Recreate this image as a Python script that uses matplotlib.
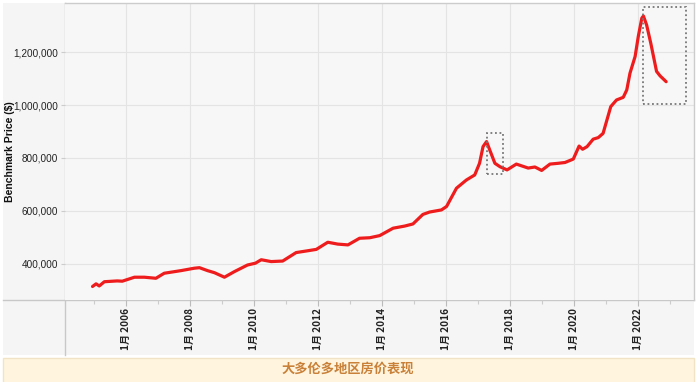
import pandas as pd
import numpy as np
import matplotlib
matplotlib.use("Agg")
import matplotlib.pyplot as plt
from matplotlib.ticker import FuncFormatter
from matplotlib.patches import Rectangle
from matplotlib.lines import Line2D

plt.rcParams['font.family'] = ['Liberation Sans', 'Noto Sans CJK SC', 'DejaVu Sans']

# data (decimal year, benchmark price)
years = [2004.96, 2005.07, 2005.17, 2005.33, 2005.73, 2005.89, 2006.27, 2006.58, 2006.94,
         2007.20, 2007.73, 2008.14, 2008.30, 2008.55, 2008.77, 2009.08, 2009.39, 2009.80,
         2010.05, 2010.23, 2010.54, 2010.90, 2011.32, 2011.64, 2011.95, 2012.31, 2012.62,
         2012.94, 2013.30, 2013.62, 2013.93, 2014.35, 2014.71, 2014.97, 2015.28, 2015.49,
         2015.86, 2016.02, 2016.33, 2016.64, 2016.90, 2017.05, 2017.16, 2017.27, 2017.37,
         2017.53, 2017.69, 2017.91, 2018.20, 2018.57, 2018.78, 2018.99, 2019.25, 2019.51,
         2019.72, 2019.98, 2020.16, 2020.27, 2020.41, 2020.60, 2020.76, 2020.91, 2021.15,
         2021.33, 2021.54, 2021.65, 2021.75, 2021.91, 2022.01, 2022.12, 2022.17, 2022.27,
         2022.40, 2022.58, 2022.69, 2022.88]
prices = [315000, 325000, 317000, 333000, 336000, 335000, 350000, 350000, 346000,
          365000, 375000, 384000, 386000, 375000, 367000, 350000, 371000, 396000,
          403000, 416000, 409000, 411000, 443000, 449000, 455000, 482000, 475000,
          472000, 497000, 499000, 507000, 535000, 543000, 551000, 587000, 596000,
          604000, 617000, 686000, 717000, 736000, 780000, 843000, 862000, 830000,
          780000, 767000, 755000, 777000, 762000, 766000, 753000, 777000, 780000,
          783000, 796000, 845000, 833000, 843000, 871000, 877000, 893000, 994000,
          1019000, 1029000, 1057000, 1120000, 1183000, 1259000, 1328000, 1336000, 1302000,
          1233000, 1127000, 1110000, 1088000]

# highlighted ranges (x0, x1, y0, y1)
boxes = [(2017.27, 2017.79, 740000, 893000),
         (2022.15, 2023.50, 1003000, 1369000)]

y_ticks = [400000, 600000, 800000, 1000000, 1200000]
x_major = list(range(2006, 2023, 2))
x_minor = list(range(2005, 2024, 2))
title_text = '大多伦多地区房价表现'

fig = plt.figure(figsize=(7, 3.82), dpi=100)
fig.patch.set_facecolor('white')

# pixel -> figure fraction helpers
W, H = 700, 382
def fx(px): return px / W
def fy(py): return 1 - py / H

# grey chart backdrop
fig.patches.append(Rectangle((fx(3), fy(355)), fx(694) - fx(3), fy(3) - fy(355),
                             transform=fig.transFigure, facecolor='#f5f5f5',
                             edgecolor='none', zorder=-2))
# banner
fig.patches.append(Rectangle((fx(3), fy(384)), fx(694) - fx(3), fy(358) - fy(384),
                             transform=fig.transFigure, facecolor='#fff5de',
                             edgecolor='#f1e4c6', linewidth=1, zorder=-2))
fig.text(fx(348), fy(369), title_text, ha='center', va='center', fontsize=9.5,
         color='#c98038', fontweight='bold',
         family=['Noto Sans CJK SC', 'DejaVu Sans'])

ax = fig.add_axes([fx(65), fy(300), fx(694) - fx(65), fy(3) - fy(300)])
ax.set_facecolor('#f7f7f7')

ax.plot(years, prices, color='#ee1c1c', linewidth=2.3, solid_capstyle='round',
        solid_joinstyle='round', zorder=3)

for x0, x1, y0, y1 in boxes:
    ax.add_patch(Rectangle((x0, y0), x1 - x0, y1 - y0, fill=False,
                           edgecolor='#777777', linestyle=(0, (1, 1.5)), linewidth=1.3, zorder=4))

ax.set_xlim(2004.1, 2023.75)
ax.set_ylim(264000, 1385000)
ax.set_xticks(x_major)
ax.set_xticks(x_minor, minor=True)
ax.set_xticklabels(['1月 %d' % y for y in x_major], rotation=90, fontsize=7.2,
                   fontweight='bold', color='#222222',
                   family=['Noto Sans CJK SC', 'DejaVu Sans'])
ax.set_yticks(y_ticks)
ax.yaxis.set_major_formatter(FuncFormatter(lambda v, p: '{:,.0f}'.format(v)))
for lab in ax.get_yticklabels():
    lab.set_fontsize(7.2)
    lab.set_color('#222222')
ax.set_ylabel('Benchmark Price ($)', fontsize=7.5, color='#111111', fontweight='bold')
ax.yaxis.set_label_coords(-(65 - 15) / (694 - 65), 0.5)

ax.tick_params(axis='x', which='major', length=4, width=0.8, color='#bbbbbb', pad=2)
ax.tick_params(axis='x', which='minor', length=3, width=0.8, color='#cccccc')
ax.tick_params(axis='y', length=3, width=0.8, color='#cccccc', pad=2)

ax.grid(True, which='major', color='#e4e4e4', linewidth=0.8)
ax.set_axisbelow(True)
for s in ax.spines.values():
    s.set_color('#cccccc')
    s.set_linewidth(1)
ax.spines['bottom'].set_visible(False)
ax.spines['left'].set_visible(False)

# axis lines extending past the plot area
fig.lines.append(Line2D([fx(3), fx(694)], [fy(300), fy(300)], transform=fig.transFigure,
                        color='#c8c8c8', linewidth=1, zorder=-1))
fig.lines.append(Line2D([fx(65), fx(65)], [fy(3), fy(355)], transform=fig.transFigure,
                        color='#c8c8c8', linewidth=1, zorder=-1))

fig.savefig('out.png', dpi=100)
